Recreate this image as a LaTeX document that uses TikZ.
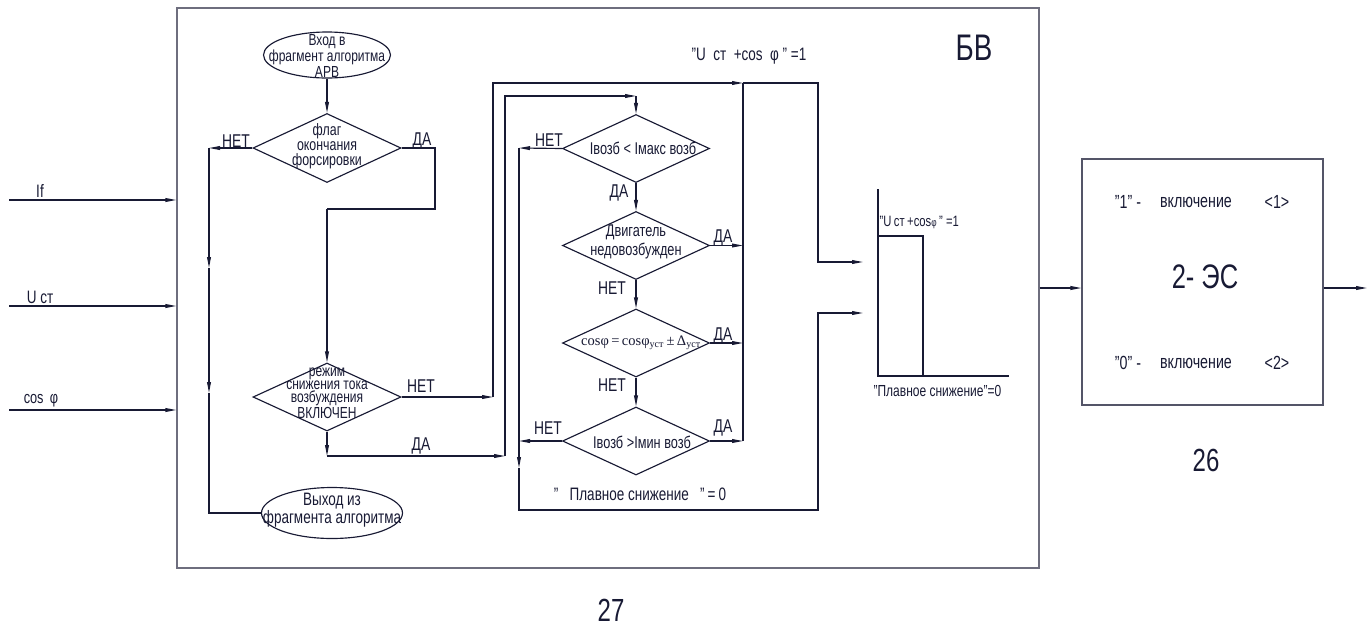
\documentclass[tikz,border=0pt]{standalone}
\usepackage{fontspec}
\setmainfont[FakeStretch=0.75]{Liberation Sans}
\newfontfamily\serifcos{Liberation Serif}
\usetikzlibrary{arrows.meta,shapes.geometric}
\definecolor{ink}{HTML}{181A34}
\definecolor{frame}{HTML}{6E6E7E}
\begin{document}
\begin{tikzpicture}[x=1pt,y=-1pt, line width=1.15pt, color=ink,
  arr/.style={-{Triangle[length=11pt,width=3.8pt]}},
  dia/.style={diamond, draw, inner sep=0pt, minimum width=147pt, minimum height=68pt},
  term/.style={ellipse, draw, inner sep=0pt},
  lbl/.style={font=\fontsize{18.5}{18.5}\selectfont, inner sep=0pt},
  txt/.style={align=center, inner sep=0pt},
  fs/.style={font=\fontsize{#1}{#1}\selectfont}
]
\useasboundingbox (0,0) rectangle (1370,630);

% frames
\node[draw=frame, line width=1.3pt, minimum width=862pt, minimum height=560pt, inner sep=0pt] (bv) at (608,288) {};
\node[draw=frame!70!ink, line width=1.2pt, minimum width=241pt, minimum height=246pt, inner sep=0pt] (es) at (1202.5,282) {};
\node[fs=37, inner sep=0pt] (bvt) at (974,48) {БВ};
\node[fs=32, inner sep=0pt] (n27) at (611,610) {27};
\node[fs=32, inner sep=0pt] (n26) at (1206,460) {26};
\node[fs=34, inner sep=0pt] (est) at (1205,277) {2- ЭС};
\node[fs=19, inner sep=0pt] (es1a) at (1128,202) {"1" -};
\node[fs=19, inner sep=0pt] (es1b) at (1196,202) {включение};
\node[fs=19, inner sep=0pt] (es1c) at (1277,202) {<1>};
\node[fs=19, inner sep=0pt] (es0a) at (1128,363) {"0" -};
\node[fs=19, inner sep=0pt] (es0b) at (1196,363) {включение};
\node[fs=19, inner sep=0pt] (es0c) at (1277,363) {<2>};

% inputs
\coordinate (i1) at (9,200);
\coordinate (i2) at (9,306);
\coordinate (i3) at (9,410);
\draw[arr] (i1) -- (i1 -| bv.west);
\draw[arr] (i2) -- (i2 -| bv.west);
\draw[arr] (i3) -- (i3 -| bv.west);
\node[fs=18, inner sep=0pt] (li1) at (40,191) {If};
\node[fs=18, inner sep=0pt] (li2) at (40,297) {U ст};
\node[fs=17, inner sep=0pt] (li3) at (41,401) {cos\, φ};

% outputs
\coordinate (o2) at (1367,288);
\draw[arr] (bv.east) -- (bv.east -| es.west);
\draw[arr] (o2 -| es.east) -- (o2);

% left flowchart
\node[term, minimum width=127pt, minimum height=46pt] (e1) at (327,55) {};
\node[txt, font=\fontsize{16}{12.5}\selectfont] (e1t) at (327,56) {Вход в\\фрагмент алгоритма\\АРВ};
\node[dia, minimum width=148pt, minimum height=69pt] (d1) at (327,148) {};
\node[txt, font=\fontsize{16.5}{15}\selectfont] (d1t) at (327,146) {флаг\\окончания\\форсировки};
\node[dia, minimum width=148pt, minimum height=68pt] (d2) at (327,397) {};
\node[txt, font=\fontsize{16}{13.3}\selectfont] (d2t) at (327,393) {режим\\снижения тока\\возбуждения\\ВКЛЮЧЕН};
\node[term, minimum width=141pt, minimum height=51pt] (e2) at (332,513) {};
\node[txt, font=\fontsize{18}{16.5}\selectfont] (e2t) at (332,510) {Выход из\\фрагмента алгоритма};

\node[lbl] (l1n) at (236,141) {НЕТ};
\node[lbl] (l1d) at (422,141) {ДА};
\node[lbl] (l2n) at (421,386) {НЕТ};
\node[lbl] (l2d) at (421,446) {ДА};

\draw[arr] (e1.south) -- (d1.north);
\coordinate (a1) at (209,148);
\coordinate (a1m) at (209,268);
\coordinate (a1n) at (209,393);
\draw[arr] (d1.west) -- (a1);
\draw[arr] (a1) -- (a1m);
\draw[arr] (a1m) -- (a1n);
\draw (a1n) |- (e2.west);

\coordinate (b1) at (435,148);
\coordinate (b2) at (435,209);
\coordinate (b3) at (327,209);
\draw (d1.east) -- (b1) -- (b2) -- (b3);
\draw[arr] (b3) -- (d2.north);

% middle flowchart
\node[dia] (d3) at (636,148.5) {};
\node[dia] (d4) at (636,245.5) {};
\node[dia] (d5) at (636,343) {};
\node[dia] (d6) at (636,441) {};
\node[fs=17, inner sep=0pt] (d3t) at (643,148) {Iвозб < Iмакс возб};
\node[txt, font=\fontsize{17}{19}\selectfont] (d4t) at (636,242) {Двигатель\\недовозбужден};
\node[inner sep=0pt, font=\serifcos\fontsize{14.5}{14.5}\selectfont] (d5t) at (641,343) {cosφ\,=\,cosφ\textsubscript{уст}\,±\,Δ\textsubscript{уст}};
\node[fs=17, inner sep=0pt] (d6t) at (642,442) {Iвозб >Iмин возб};

\node[lbl] (l3n) at (549,140) {НЕТ};
\node[lbl] (l3d) at (619,193) {ДА};
\node[lbl] (l4d) at (723,238) {ДА};
\node[lbl] (l4n) at (612,288) {НЕТ};
\node[lbl] (l5d) at (723,336) {ДА};
\node[lbl] (l5n) at (612,385) {НЕТ};
\node[lbl] (l6n) at (548,428) {НЕТ};
\node[lbl] (l6d) at (723,428) {ДА};

\node[fs=18, inner sep=0pt] (topl) at (749,56) {"U\ \ ст\ \ +cos\ \ φ\ "\ =1};
\node[fs=18, inner sep=0pt] (plv) at (640,494) {"\ \ \ Плавное снижение\ \ \ "\,=\,0};

\coordinate (c1) at (493,397);
\coordinate (c2) at (493,83);
\coordinate (c3) at (743,83);
\coordinate (c4) at (818,83);
\coordinate (c5) at (818,262);
\coordinate (c6) at (863,262);
\draw[arr] (d2.east) -- (c1);
\draw[arr] (c1) -- (c2) -- (c3);
\draw[arr] (c3) -- (c4) -- (c5) -- (c6);

\coordinate (f1) at (327,456);
\coordinate (f2) at (505,456);
\coordinate (f3) at (505,96);
\coordinate (f4) at (636,96);
\draw[arr] (d2.south) -- (f1);
\draw[arr] (f1) -- (f2);
\draw[arr] (f2) -- (f3) -- (f4);
\draw[arr] (f4) -- (d3.north);

\coordinate (g1) at (519,148);
\coordinate (g2) at (519,468);
\coordinate (g3) at (519,510);
\coordinate (g4) at (818,510);
\coordinate (g5) at (818,313);
\coordinate (g6) at (863,313);
\coordinate (h6) at (519,441);
\draw[arr] (d3.west) -- (g1);
\draw[arr] (g1) -- (g2);
\draw[arr] (g2) -- (g3) -- (g4) -- (g5) -- (g6);
\draw[arr] (d6.west) -- (h6);

\draw[arr] (d3.south) -- (d4.north);
\draw[arr] (d4.south) -- (d5.north);
\draw[arr] (d5.south) -- (d6.north);
\draw[arr] (d4.east) -- (d4.east -| c3);
\draw[arr] (d5.east) -- (d5.east -| c3);
\draw[arr] (d6.east) -- (d6.east -| c3);
\draw (c3) -- (d6.east -| c3);

% timing diagram
\coordinate (t0) at (878,376);
\coordinate (t1) at (878,189);
\coordinate (t2) at (878,236);
\coordinate (t3) at (923,236);
\coordinate (t4) at (923,376);
\coordinate (t5) at (1009,376);
\draw (t1) -- (t0) -- (t4);
\draw (t2) -- (t3) -- (t4);
\draw[line width=1.9pt] (t4) -- (t5);
\node[fs=15, inner sep=0pt, anchor=west] (tl1) at (879,222) {"U\,ст\,+cos{\fontsize{11}{11}\selectfont φ}\," =1};
\node[fs=16, inner sep=0pt, anchor=west] (tl0) at (873,391) {"Плавное снижение"=0};
\end{tikzpicture}
\end{document}
